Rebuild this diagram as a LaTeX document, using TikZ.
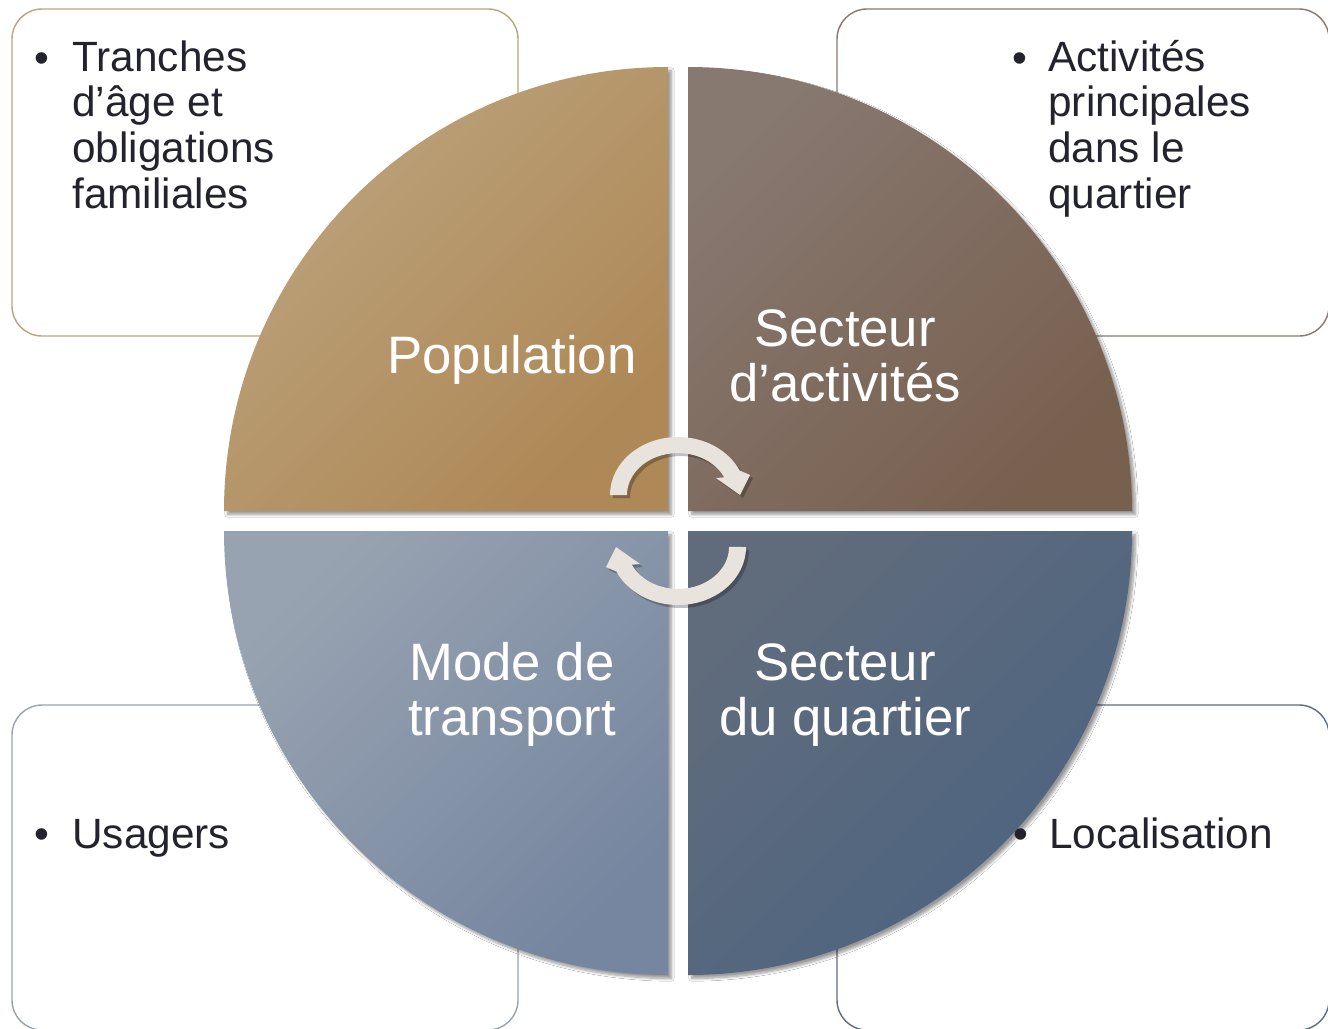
\documentclass[tikz,border=0pt]{standalone}
\usepackage{fontspec}
\setmainfont{Liberation Sans}
\usetikzlibrary{shadows.blur}
\definecolor{sand}{HTML}{BCA37D}
\definecolor{sanddark}{HTML}{AE8856}
\definecolor{taupe}{HTML}{877870}
\definecolor{taupedark}{HTML}{78604F}
\definecolor{steel}{HTML}{98A3B1}
\definecolor{steeldark}{HTML}{7686A0}
\definecolor{slate}{HTML}{606C7C}
\definecolor{slatedark}{HTML}{4C6381}
\definecolor{ink}{HTML}{23232D}
\definecolor{arrowtint}{HTML}{E8E3DC}

\tikzset{
    boxline/.style={line width=0.8pt,rounded corners=0.6cm},
    quarter/.style={draw=none,blur shadow={shadow xshift=2pt,shadow yshift=-2pt,shadow blur radius=1.5pt,shadow blur steps=8,shadow opacity=40}},
    bigtext/.style={text=white,font=\fontsize{30}{31.3}\selectfont,align=center,inner sep=0pt},
    smalltext/.style={text=ink,font=\fontsize{24.1}{25.9}\selectfont,align=left,inner sep=0pt}
}

\begin{document}
\begin{tikzpicture}[x=0.02cm,y=-0.02cm]
        \useasboundingbox (0,0) rectangle (1328,1028);
        \clip (0,0) rectangle (1328,1028);
        \fill[white] (0,0) rectangle (1328,1028);

        % side boxes
        \draw[boxline,draw=sand] (12,9) rectangle (518,336);
        \draw[boxline,draw=taupe] (837,9) rectangle (1329,336);
        \draw[boxline,draw=steel] (12,705) rectangle (518,1030);
        \draw[boxline,draw=slate] (837,705) rectangle (1329,1030);

        % quarters
        \path[quarter,top color=sand,bottom color=sanddark,shading angle=45] (668,511) -- (224,511) arc[start angle=180,end angle=270,radius=444] -- cycle;
        \path[quarter,top color=taupe,bottom color=taupedark,shading angle=45] (688,511) -- (688,67) arc[start angle=270,end angle=360,radius=444] -- cycle;
        \path[quarter,top color=slate,bottom color=slatedark,shading angle=45] (688,531) -- (1132,531) arc[start angle=0,end angle=90,radius=444] -- cycle;
        \path[quarter,top color=steel,bottom color=steeldark,shading angle=45] (668,531) -- (668,975) arc[start angle=90,end angle=180,radius=444] -- cycle;

        % turning arrows
        \foreach \ang in {0,180}{
            \foreach \off/\col/\op in {3/black/0.25,0/arrowtint/1}{
                \fill[fill=\col,opacity=\op,shift={(\off,\off)},rotate around={\ang:(678,521)}]
                    (610,495) arc[start angle=180,end angle=335,x radius=68,y radius=58]
                    -- (750,475) -- (740,495) -- (716,478) -- (724.2,477.3)
                    arc[start angle=335,end angle=180,x radius=51,y radius=42] -- cycle;
            }
        }

        % labels (anchored at the last line)
        \node[bigtext,anchor=base] (pop) at (512,373) {Population};
        \node[bigtext,anchor=base] (act) at (845,401) {Secteur\\d’activités};
        \node[bigtext,anchor=base] (mode) at (512,735) {Mode de\\transport};
        \node[bigtext,anchor=base] (quart) at (845,735) {Secteur\\du quartier};

        % bullets
        \foreach \x/\y/\name in {42/72/tl,1020/72/tr,42/848/bl,1021/848/br}{
            \node[smalltext,anchor=base] (dot\name) at (\x,\y) {•};
        }
        \node[smalltext,anchor=base west] (age) at (72,208) {Tranches\\d’âge et\\obligations\\familiales};
        \node[smalltext,anchor=base west] (main) at (1048,208) {Activités\\principales\\dans le\\quartier};
        \node[smalltext,anchor=base west] (users) at (72,848) {Usagers};
        \node[smalltext,anchor=base west] (place) at (1049,848) {Localisation};
    \end{tikzpicture}
\end{document}
